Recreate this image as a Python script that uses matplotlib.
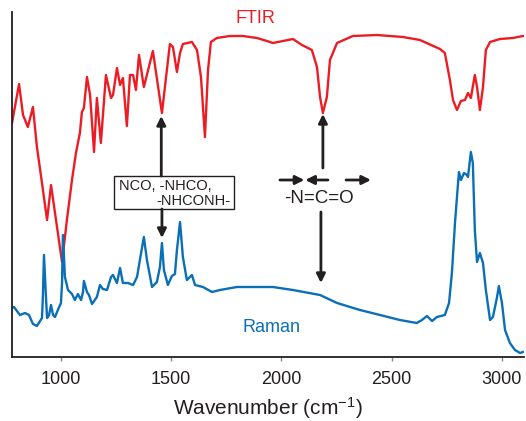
import matplotlib
matplotlib.use("Agg")
import matplotlib.pyplot as plt
from matplotlib.patches import Rectangle

plt.rcParams['font.family'] = ['Liberation Sans', 'DejaVu Sans']
plt.rcParams['mathtext.fontset'] = 'custom'
plt.rcParams['mathtext.rm'] = 'Liberation Sans'
plt.rcParams['mathtext.it'] = 'Liberation Sans'

# ---- data (wavenumber in cm-1, intensity in arbitrary units) ----
ftir_wn = [778, 810, 828, 850, 873, 891, 914, 937, 955, 973, 1005, 1027, 1050,
           1068, 1086, 1095, 1104, 1118, 1132, 1150, 1163, 1181, 1204, 1227, 1236,
           1254, 1268, 1281, 1299, 1313, 1327, 1340, 1354, 1376, 1417, 1458, 1494,
           1508, 1526, 1540, 1553, 1594, 1617, 1635, 1653, 1667, 1680, 1707, 1766,
           1825, 1889, 1934, 1961, 2052, 2093, 2138, 2161, 2175, 2188, 2206, 2220,
           2252, 2324, 2433, 2551, 2628, 2719, 2741, 2764, 2778, 2796, 2814, 2832,
           2846, 2859, 2877, 2887, 2900, 2914, 2927, 2946, 2991, 3050, 3095]
ftir_int = [234, 273, 242, 230, 250, 210, 174, 137, 172, 144, 95, 137, 177,
            204, 224, 245, 249, 280, 262, 205, 259, 214, 282, 259, 262,
            289, 272, 279, 231, 282, 282, 267, 302, 270, 306, 244, 313,
            310, 285, 304, 313, 315, 307, 280, 220, 287, 315, 319, 321,
            321, 319, 316, 314, 318, 312, 307, 290, 260, 244, 260, 297,
            314, 321, 322, 320, 317, 308, 304, 277, 257, 247, 256, 257,
            264, 259, 282, 270, 247, 270, 307, 315, 318, 319, 321]

raman_wn = [778, 787, 814, 837, 855, 873, 891, 914, 918, 923, 932, 937, 946, 955,
            964, 973, 986, 1000, 1005, 1009, 1018, 1032, 1050, 1063, 1077, 1091,
            1100, 1104, 1118, 1127, 1141, 1163, 1177, 1190, 1209, 1227, 1236, 1254,
            1268, 1281, 1304, 1327, 1345, 1358, 1376, 1390, 1413, 1435, 1449, 1458,
            1467, 1485, 1503, 1517, 1526, 1540, 1553, 1571, 1594, 1608, 1644, 1685,
            1721, 1798, 1871, 1961, 2052, 2175, 2252, 2356, 2447, 2537, 2614, 2637,
            2660, 2683, 2705, 2741, 2760, 2773, 2787, 2796, 2805, 2814, 2828, 2841,
            2846, 2859, 2868, 2877, 2887, 2900, 2914, 2927, 2946, 2959, 2977, 2986,
            3000, 3014, 3036, 3059, 3082, 3095]
raman_int = [49, 50, 42, 44, 42, 33, 31, 39, 60, 102, 60, 39, 42, 52,
             42, 40, 47, 54, 74, 122, 80, 67, 63, 57, 63, 57,
             65, 76, 65, 62, 53, 60, 72, 68, 67, 80, 82, 74,
             89, 74, 74, 72, 80, 97, 120, 97, 70, 75, 90, 114,
             87, 72, 81, 83, 107, 135, 100, 77, 82, 72, 70, 65,
             67, 70, 70, 70, 67, 62, 54, 47, 42, 37, 34, 37,
             41, 36, 40, 42, 54, 84, 134, 160, 185, 177, 184, 182,
             180, 205, 194, 127, 95, 104, 94, 67, 37, 40, 59, 71,
             54, 27, 14, 7, 4, 5]

xticks = [1000, 1500, 2000, 2500, 3000]
xlabel = r'Wavenumber (cm$^{\mathrm{-1}}$)'

RED = '#ec1c24'
BLUE = '#0a6fb7'
DARK = '#231f20'

fig = plt.figure(figsize=(5.26, 4.21), dpi=100)
ax = fig.add_axes([12 / 526, 64 / 421, 512 / 526, 345 / 421])

ax.plot(ftir_wn, ftir_int, color=RED, lw=1.7, solid_joinstyle='round')
ax.plot(raman_wn, raman_int, color=BLUE, lw=1.7, solid_joinstyle='round')

ax.set_xlim(778, 3100)
ax.set_ylim(0, 345)
ax.set_yticks([])
ax.set_xticks(xticks)
ax.set_xticklabels([str(t) for t in xticks], fontsize=13)
ax.tick_params(axis='x', direction='out', length=3, width=1, color='#888888',
               pad=7, labelcolor=DARK)
for s in ['top', 'right']:
    ax.spines[s].set_visible(False)
for s in ['left', 'bottom']:
    ax.spines[s].set_color(DARK)
    ax.spines[s].set_linewidth(1.3)
ax.set_xlabel(xlabel, fontsize=15, color=DARK, labelpad=5)

# curve labels
ax.text(1884, 339, 'FTIR', color=RED, fontsize=13, ha='center', va='center')
ax.text(1957, 29, 'Raman', color=BLUE, fontsize=13, ha='center', va='center')

arrow_kw = dict(arrowstyle='-|>', lw=2.0, color=DARK, mutation_scale=13,
                shrinkA=0, shrinkB=0)

def arrow(x0, y0, x1, y1):
    ax.annotate('', xy=(x1, y1), xytext=(x0, y0),
                arrowprops=arrow_kw)

# NCO / NHCO box
ax.add_patch(Rectangle((1240, 148), 545, 33, fill=False, lw=1.0, ec=DARK))
ax.text(1263, 171, 'NCO, -NHCO,', fontsize=10.5, color=DARK, ha='left', va='center')
ax.text(1435, 156, '-NHCONH-', fontsize=10.5, color=DARK, ha='left', va='center')
arrow(1455, 181, 1455, 241)
arrow(1458, 148, 1458, 119)

# -N=C=O
ax.text(2170, 159, '-N=C=O', fontsize=13.5, color=DARK, ha='center', va='center')
arrow(2188, 189, 2188, 243)
arrow(2179, 145, 2179, 74)
arrow(1993, 177, 2104, 177)
arrow(2211, 177, 2108, 177)
arrow(2293, 177, 2406, 177)

fig.savefig('out.png', dpi=100)
